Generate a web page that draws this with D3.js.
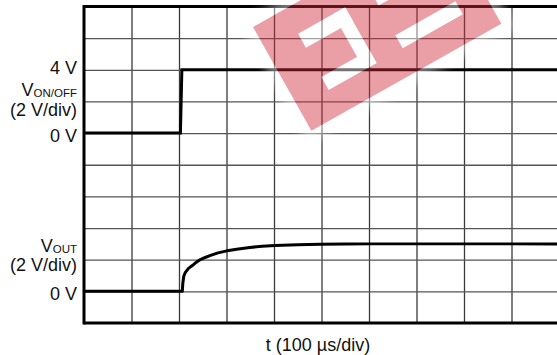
<!DOCTYPE html>
<html>
<head>
<meta charset="utf-8">
<script src="https://cdn.jsdelivr.net/npm/d3@7"></script>
<style>
  body { margin: 0; background: #fff; }
  svg { display: block; font-family: "Liberation Sans", Arial, sans-serif; }
</style>
</head>
<body>
<div id="chart"></div>
<script>
const width = 557;
const height = 355;
const margin = { top: 6.5, left: 84 };
const divW = 47.5;
const divH = 31.65;

// scope screen: 10 x 10 divisions, 100 us/div, 2 V/div
const timeDomain = [0, 1000];
const divDomain = [0, 10];
const voltsPerDiv = 2;

// channel 1: V_ON/OFF (zero at 6 div from bottom)
const onOffZeroDiv = 6;
const onOffTime = [0, 203, 206, 1000];
const onOffVolts = [0, 0, 4, 4];

// channel 2: V_OUT (zero at 1 div from bottom)
const voutZeroDiv = 1;
const voutTime = [0, 207, 208, 210, 213, 220, 228, 236, 244, 255, 265, 282, 301, 325, 349, 375, 402, 450, 497, 550, 602, 1000];
const voutVolts = [0, 0, 0.5, 0.95, 1.18, 1.45, 1.63, 1.83, 1.99, 2.14, 2.26, 2.43, 2.56, 2.68, 2.77, 2.85, 2.9, 2.95, 2.97, 2.99, 3.0, 3.0];

const leftLabels = [
  { text: "4 V", ch: onOffZeroDiv, v: 4, dy: 4.2 },
  { text: "V", sub: "ON/OFF", ch: onOffZeroDiv, v: 4, dy: 26.2 },
  { text: "(2 V/div)", ch: onOffZeroDiv, v: 0, dy: -17 },
  { text: "0 V", ch: onOffZeroDiv, v: 0, dy: 8.7 },
  { text: "V", sub: "OUT", ch: voutZeroDiv, v: 0, dy: -39.5 },
  { text: "(2 V/div)", ch: voutZeroDiv, v: 0, dy: -20.5 },
  { text: "0 V", ch: voutZeroDiv, v: 0, dy: 8.6 },
];
const xTitle = "t (100 \u00b5s/div)";

const x = d3.scaleLinear().domain(timeDomain).range([margin.left, margin.left + 10 * divW]);
const y = d3.scaleLinear().domain(divDomain).range([margin.top + 10 * divH, margin.top]);
const chY = (zero, v) => y(zero + v / voltsPerDiv);

const svg = d3.select("#chart").append("svg")
  .attr("width", width)
  .attr("height", height);

svg.append("defs").append("filter")
  .attr("id", "halo")
  .attr("x", "-20%").attr("y", "-20%").attr("width", "140%").attr("height", "140%")
  .append("feGaussianBlur").attr("stdDeviation", 5);

// grid through axes
svg.append("g")
  .attr("transform", `translate(0,${margin.top})`)
  .call(d3.axisBottom(x).tickValues(d3.range(100, 1000, 100)).tickSize(10 * divH).tickFormat(""))
  .call((g) => g.select(".domain").remove())
  .call((g) => g.selectAll("line").attr("stroke", "#3a3a3a").attr("stroke-width", 1.3));

svg.append("g")
  .attr("transform", `translate(${margin.left},0)`)
  .call(d3.axisRight(y).tickValues(d3.range(1, 10)).tickSize(width - margin.left).tickFormat(""))
  .call((g) => g.select(".domain").remove())
  .call((g) => g.selectAll("line").attr("stroke", "#555").attr("stroke-width", 1.3));

// frame: left, top, bottom
const frame = svg.append("g").attr("stroke", "#000").attr("stroke-width", 3);
frame.append("line").attr("x1", x(0)).attr("x2", x(0)).attr("y1", y(10) - 1.5).attr("y2", y(0) + 1.5);
frame.append("line").attr("x1", x(0)).attr("x2", width).attr("y1", y(10)).attr("y2", y(10));
frame.append("line").attr("x1", x(0)).attr("x2", width).attr("y1", y(0)).attr("y2", y(0));

// traces
const line = d3.line().x((d) => x(d[0])).y((d) => d[1]);
svg.append("path")
  .datum(d3.zip(onOffTime, onOffVolts.map((v) => chY(onOffZeroDiv, v))))
  .attr("fill", "none").attr("stroke", "#000").attr("stroke-width", 3)
  .attr("d", line);
svg.append("path")
  .datum(d3.zip(voutTime, voutVolts.map((v) => chY(voutZeroDiv, v))))
  .attr("fill", "none").attr("stroke", "#000").attr("stroke-width", 3)
  .attr("stroke-linejoin", "round")
  .attr("d", line);

// channel labels
const labels = svg.append("g")
  .attr("text-anchor", "end")
  .attr("font-size", 18)
  .attr("fill", "#111");
leftLabels.forEach((d) => {
  const t = labels.append("text")
    .attr("x", 77)
    .attr("y", chY(d.ch, d.v) + d.dy)
    .text(d.text);
  if (d.sub) {
    t.append("tspan").attr("font-size", 11.5).attr("dy", 1).text(d.sub);
  }
});

svg.append("text")
  .attr("x", 318)
  .attr("y", 351)
  .attr("text-anchor", "middle")
  .attr("font-size", 18)
  .attr("fill", "#111")
  .text(xTitle);

// watermark
const wm = svg.append("g")
  .attr("opacity", 0.45)
  .attr("transform", "translate(253,27) rotate(-29.4)");
wm.append("rect")
  .attr("x", -10).attr("y", -10).attr("width", 238).attr("height", 139)
  .attr("fill", "#fff").attr("filter", "url(#halo)");
wm.append("rect").attr("width", 218).attr("height", 119).attr("fill", "rgb(207,44,58)");
const white = [
  [36, 28, 54, 16], [76, 28, 14, 64], [35, 77, 55, 15],
  [120, 28, 69, 15], [120, 77, 69, 15],
];
white.forEach((r) => {
  wm.append("rect")
    .attr("x", r[0]).attr("y", r[1]).attr("width", r[2]).attr("height", r[3])
    .attr("fill", "#fff");
});
</script>
</body>
</html>
